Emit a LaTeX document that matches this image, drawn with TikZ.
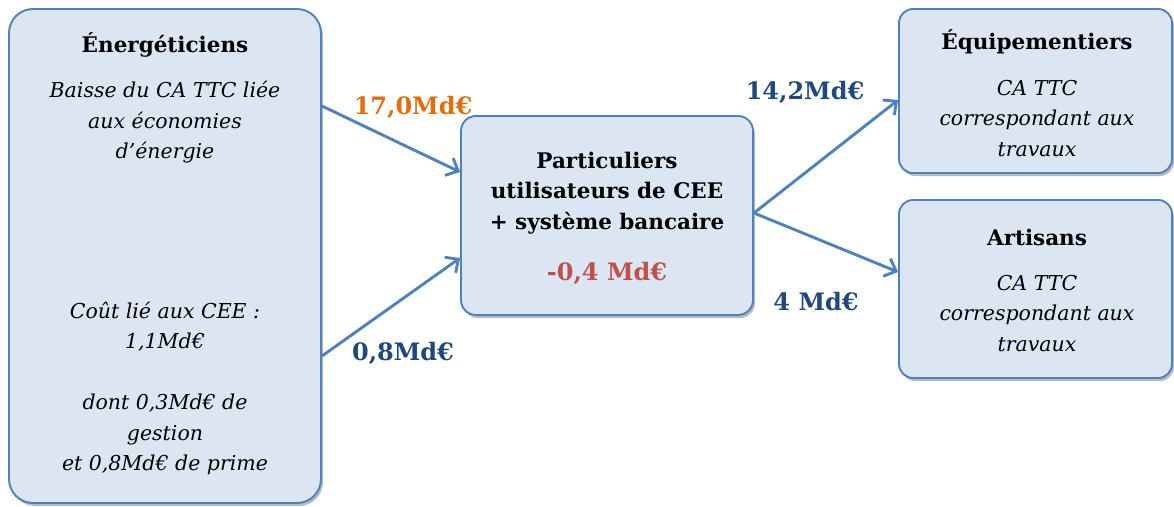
\documentclass[tikz,border=0pt]{standalone}
\usepackage{fontspec}
\setmainfont{DejaVu Serif}
\usetikzlibrary{arrows.meta,shadows}
\definecolor{boxfill}{HTML}{DCE6F2}
\definecolor{boxline}{HTML}{4F81BD}
\definecolor{orangeval}{HTML}{E46C0A}
\definecolor{blueval}{HTML}{1F497D}
\definecolor{redval}{HTML}{C0504D}
\tikzset{
  box/.style={draw=boxline, line width=1.9pt, fill=boxfill, inner sep=0pt,
    drop shadow={shadow xshift=2pt, shadow yshift=-3pt, opacity=0.45, fill=black!60}},
  title/.style={font=\fontsize{21.5}{30.5}\selectfont\bfseries, inner sep=0pt},
  body/.style={font=\fontsize{20.5}{30.5}\selectfont\itshape, align=center, inner sep=0pt},
  val/.style={font=\fontsize{24}{30}\selectfont\bfseries, inner sep=0pt},
  arr/.style={draw=boxline, line width=2.9pt, -{Straight Barb[length=10pt,width=19pt]}},
}
\begin{document}
\begin{tikzpicture}[x=1pt,y=-1pt]
\useasboundingbox (0,0) rectangle (1174,506);
% boxes
\node[box, rounded corners=24pt, minimum width=312pt, minimum height=494pt] (left) at (165,256) {};
\node[box, rounded corners=15pt, minimum width=292pt, minimum height=199pt] (mid) at (607,215.5) {};
\node[box, rounded corners=14pt, minimum width=273pt, minimum height=164pt] (equip) at (1035.5,91) {};
\node[box, rounded corners=14pt, minimum width=273pt, minimum height=178pt] (artis) at (1035.5,289) {};
% left texts
\node[title] (lt) at (165,45) {Énergéticiens};
\node[body] (lb1) at (165,122.5) {Baisse du CA TTC liée\\aux économies\\d’énergie};
\node[body] (lb2) at (165,388.5) {Coût lié aux CEE :\\1,1Md€\\[30.5pt]dont 0,3Md€ de\\gestion\\et 0,8Md€ de prime};
% middle
\node[title, align=center] (mt) at (607,193) {Particuliers\\utilisateurs de CEE\\+ système bancaire};
\node[val, text=redval] (mv) at (607,273) {-0,4 Md€};
% right
\node[title] (et) at (1037,42) {Équipementiers};
\node[body] (eb) at (1037,118.5) {CA TTC\\correspondant aux\\travaux};
\node[title] (at) at (1037,237) {Artisans};
\node[body] (ab) at (1037,313.5) {CA TTC\\correspondant aux\\travaux};
% arrows
\draw[arr] (left.east |- 0,106) -- (mid.west |- 0,172);
\draw[arr] (left.east |- 0,356) -- (mid.west |- 0,258);
\draw[arr] (mid.east |- 0,213) -- (equip.west |- 0,100);
\draw[arr] (mid.east |- 0,213) -- (artis.west |- 0,272);
% values
\node[val, text=orangeval] (v1) at (413,107) {17,0Md€};
\node[val, text=blueval] (v2) at (403,353) {0,8Md€};
\node[val, text=blueval] (v3) at (805,92) {14,2Md€};
\node[val, text=blueval] (v4) at (816,302) {4 Md€};
\end{tikzpicture}
\end{document}
